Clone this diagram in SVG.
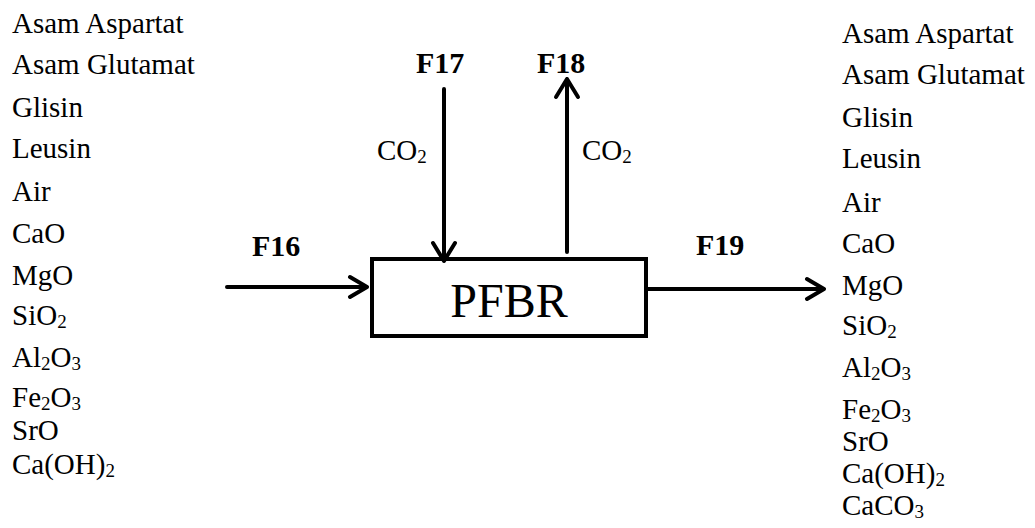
<svg xmlns="http://www.w3.org/2000/svg" width="1035" height="528" viewBox="0 0 1035 528">
<style>
text{font-family:"Liberation Serif","Times New Roman",serif;fill:#000}
.l{font-size:29px}
.b{font-size:30px;font-weight:bold}
.s{font-size:19px}
.p{font-size:48px}
.c{fill:none;stroke:#000;stroke-width:4;stroke-linecap:round;stroke-linejoin:round}
</style>
<rect width="1035" height="528" fill="#fff"/>
<g id="feed-list">
<text class="l" x="12" y="33">Asam Aspartat</text>
<text class="l" x="12" y="74">Asam Glutamat</text>
<text class="l" x="12" y="117">Glisin</text>
<text class="l" x="12" y="158">Leusin</text>
<text class="l" x="12" y="201">Air</text>
<text class="l" x="12" y="243">CaO</text>
<text class="l" x="12" y="285">MgO</text>
<text class="l" x="12" y="325">SiO<tspan class="s" dy="3">2</tspan></text>
<text class="l" x="12" y="367">Al<tspan class="s" dy="3">2</tspan><tspan dy="-3">O</tspan><tspan class="s" dy="3">3</tspan></text>
<text class="l" x="12" y="407">Fe<tspan class="s" dy="3">2</tspan><tspan dy="-3">O</tspan><tspan class="s" dy="3">3</tspan></text>
<text class="l" x="12" y="440">SrO</text>
<text class="l" x="12" y="474">Ca(OH)<tspan class="s" dy="3">2</tspan></text>
</g>
<g id="product-list">
<text class="l" x="842" y="43">Asam Aspartat</text>
<text class="l" x="842" y="84">Asam Glutamat</text>
<text class="l" x="842" y="127">Glisin</text>
<text class="l" x="842" y="168">Leusin</text>
<text class="l" x="842" y="212">Air</text>
<text class="l" x="842" y="253">CaO</text>
<text class="l" x="842" y="295">MgO</text>
<text class="l" x="842" y="335">SiO<tspan class="s" dy="3">2</tspan></text>
<text class="l" x="842" y="377">Al<tspan class="s" dy="3">2</tspan><tspan dy="-3">O</tspan><tspan class="s" dy="3">3</tspan></text>
<text class="l" x="842" y="419">Fe<tspan class="s" dy="3">2</tspan><tspan dy="-3">O</tspan><tspan class="s" dy="3">3</tspan></text>
<text class="l" x="842" y="451">SrO</text>
<text class="l" x="842" y="483">Ca(OH)<tspan class="s" dy="3">2</tspan></text>
<text class="l" x="842" y="515">CaCO<tspan class="s" dy="3">3</tspan></text>
</g>
<g id="pfbr">
<rect x="372" y="259" width="274" height="77" fill="#fff" stroke="#000" stroke-width="4"/>
<text class="p" x="509" y="317" text-anchor="middle">PFBR</text>
</g>
<g id="connectors">
<path class="c" d="M227 287H367M350 277L367 287L350 297"/>
<path class="c" d="M444 89V261M433 243L444 261L455 243"/>
<path class="c" d="M567 252V79M556 97L567 79L578 97"/>
<path class="c" d="M648 289H824M807 279L824 289L807 299"/>
</g>
<g id="labels">
<text class="b" x="416" y="73">F17</text>
<text class="b" x="537" y="73">F18</text>
<text class="b" x="252" y="256">F16</text>
<text class="b" x="696" y="255">F19</text>
<text class="l" x="377" y="160">CO<tspan class="s" dy="3">2</tspan></text>
<text class="l" x="582" y="160">CO<tspan class="s" dy="3">2</tspan></text>
</g>
</svg>
